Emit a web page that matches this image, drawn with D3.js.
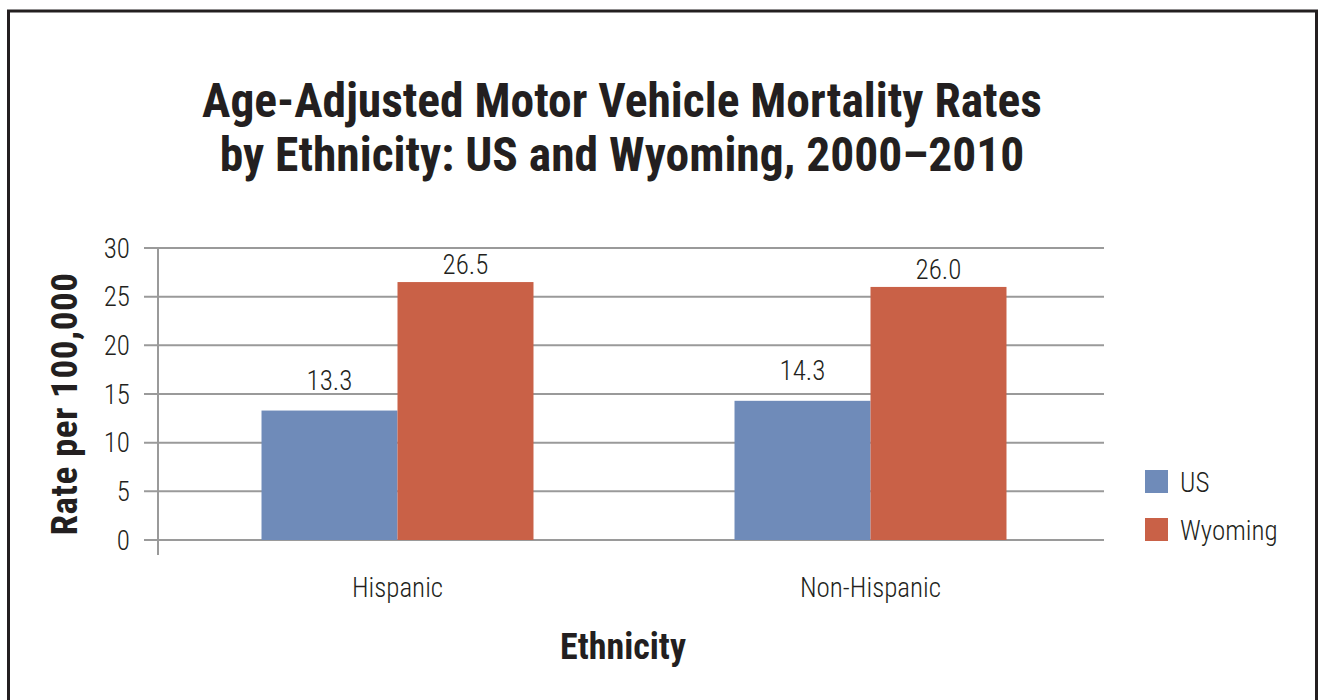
<!DOCTYPE html>
<html>
<head>
<meta charset="utf-8">
<script src="https://cdn.jsdelivr.net/npm/d3@7"></script>
<style>
  html, body { margin: 0; padding: 0; background: #fff; }
  svg { display: block; }
  text { font-family: "Roboto Condensed", "Liberation Sans Narrow", "DejaVu Sans Condensed", sans-serif; fill: #231f20; }
  .light { font-weight: 300; }
</style>
</head>
<body>
<svg id="chart" width="1320" height="700"></svg>
<script>
// Chart data
const categories = ["Hispanic", "Non-Hispanic"];
const seriesNames = ["US", "Wyoming"];
const usValues = [13.3, 14.3];
const wyomingValues = [26.5, 26.0];
const yTicks = [0, 5, 10, 15, 20, 25, 30];
const titleLines = ["Age-Adjusted Motor Vehicle Mortality Rates", "by Ethnicity: US and Wyoming, 2000\u20132010"];

const colors = { "US": "#6f8bb9", "Wyoming": "#c96147" };
const labelGap = { "US": 21, "Wyoming": 8 };
const seriesValues = { "US": usValues, "Wyoming": wyomingValues };

const svg = d3.select("#chart");

// Outer frame
svg.append("rect")
  .attr("x", 8.5).attr("y", 11).attr("width", 1308).attr("height", 700)
  .attr("fill", "none").attr("stroke", "#231f20").attr("stroke-width", 3);

const plot = { left: 158, right: 1104, top: 248, bottom: 540 };

const x0 = d3.scaleBand()
  .domain(categories)
  .range([plot.left + 3, plot.right + 3])
  .paddingInner(0.425)
  .paddingOuter(0.2125);

const x1 = d3.scaleBand()
  .domain(seriesNames)
  .range([0, x0.bandwidth()]);

const y = d3.scaleLinear().domain([0, 30]).range([plot.bottom, plot.top]);

// Gridlines
svg.append("g")
  .selectAll("line")
  .data(yTicks)
  .join("line")
  .attr("x1", plot.left - 14).attr("x2", plot.right)
  .attr("y1", d => y(d)).attr("y2", d => y(d))
  .attr("stroke", "#9a9a9a").attr("stroke-width", 2);

// Y axis line
svg.append("line")
  .attr("x1", plot.left).attr("x2", plot.left)
  .attr("y1", plot.top).attr("y2", plot.bottom + 15)
  .attr("stroke", "#9a9a9a").attr("stroke-width", 2);

// Y tick labels
svg.append("g")
  .selectAll("text")
  .data(yTicks)
  .join("text")
  .attr("class", "light")
  .attr("x", 130).attr("y", d => y(d))
  .attr("dy", "0.36em")
  .attr("text-anchor", "end")
  .attr("font-size", 27)
  .text(d => d);

// Bars
const groups = svg.append("g")
  .selectAll("g")
  .data(categories)
  .join("g")
  .attr("transform", d => `translate(${x0(d)},0)`);

groups.selectAll("rect")
  .data((c, i) => seriesNames.map(s => ({ s, v: seriesValues[s][i] })))
  .join("rect")
  .attr("x", d => x1(d.s))
  .attr("width", x1.bandwidth())
  .attr("y", d => y(d.v))
  .attr("height", d => y(0) - y(d.v))
  .attr("fill", d => colors[d.s]);

groups.selectAll("text.val")
  .data((c, i) => seriesNames.map(s => ({ s, v: seriesValues[s][i] })))
  .join("text")
  .attr("class", "val light")
  .attr("x", d => x1(d.s) + x1.bandwidth() / 2)
  .attr("y", d => y(d.v) - labelGap[d.s])
  .attr("text-anchor", "middle")
  .attr("font-size", 27)
  .text(d => d3.format(".1f")(d.v));

// Category labels
svg.append("g")
  .selectAll("text")
  .data(categories)
  .join("text")
  .attr("class", "light")
  .attr("x", d => x0(d) + x0.bandwidth() / 2)
  .attr("y", 597)
  .attr("text-anchor", "middle")
  .attr("font-size", 27)
  .text(d => d);

// Title
svg.append("text")
  .attr("x", 622).attr("y", 0)
  .attr("text-anchor", "middle")
  .attr("font-size", 47.5).attr("font-weight", "bold")
  .selectAll("tspan")
  .data(titleLines)
  .join("tspan")
  .attr("x", 622)
  .attr("y", (d, i) => 117 + i * 54)
  .text(d => d);

// Axis titles
svg.append("text")
  .attr("transform", "translate(77,404) rotate(-90)")
  .attr("text-anchor", "middle")
  .attr("font-size", 37).attr("font-weight", "bold")
  .attr("letter-spacing", 0.6)
  .text("Rate per 100,000");

svg.append("text")
  .attr("x", 623).attr("y", 659)
  .attr("text-anchor", "middle")
  .attr("font-size", 36).attr("font-weight", "bold")
  .text("Ethnicity");

// Legend
const legend = svg.append("g")
  .selectAll("g")
  .data(seriesNames)
  .join("g")
  .attr("transform", (d, i) => `translate(1145,${470 + i * 48})`);

legend.append("rect")
  .attr("width", 23).attr("height", 23)
  .attr("fill", d => colors[d]);

legend.append("text")
  .attr("class", "light")
  .attr("x", 35).attr("y", 12)
  .attr("dy", "0.36em")
  .attr("font-size", 27)
  .text(d => d);
</script>
</body>
</html>
